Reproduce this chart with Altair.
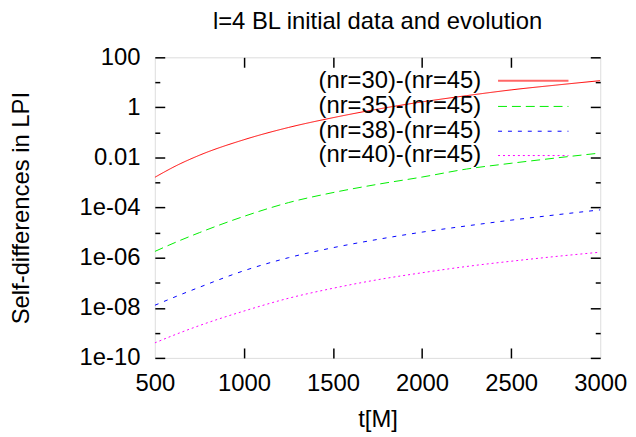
import math
import altair as alt
import pandas as pd

# ---- data ----
t = [500, 625, 750, 1000, 1250, 1500, 1750, 2000, 2250, 2500, 2750, 3000]
nr30 = [1.62e-3, 4.9e-3, 1.23e-2, 5.13e-2, 0.158, 0.389, 0.851, 1.66, 2.95, 5.01, 7.76, 11.7]
nr35 = [1.78e-6, 4.37e-6, 1.0e-5, 4.47e-5, 1.58e-4, 3.98e-4, 8.51e-4, 1.66e-3, 3.47e-3, 5.89e-3, 9.55e-3, 1.51e-2]
nr38 = [1.26e-8, 2.95e-8, 6.6e-8, 3.02e-7, 1.0e-6, 2.51e-6, 5.37e-6, 1.05e-5, 1.86e-5, 3.16e-5, 5.13e-5, 8.13e-5]
nr40 = [3.98e-10, 9.1e-10, 1.95e-9, 7.41e-9, 2.40e-8, 6.03e-8, 1.32e-7, 2.51e-7, 4.47e-7, 7.24e-7, 1.12e-6, 1.66e-6]

series_labels = ["(nr=30)-(nr=45)", "(nr=35)-(nr=45)", "(nr=38)-(nr=45)", "(nr=40)-(nr=45)"]
series_values = [nr30, nr35, nr38, nr40]
series_colors = ["#ff0000", "#00ee00", "#0000ff", "#ff00ff"]
series_dash = [[1, 0], [9, 5], [4, 6], [2, 3]]

x_ticks = [500, 1000, 1500, 2000, 2500, 3000]
x_inner_ticks = [1000, 1500, 2000, 2500]
y_ticks = [1e-10, 1e-8, 1e-6, 1e-4, 1e-2, 1, 100]
y_tick_labels = ["1e-10", "1e-08", "1e-06", "1e-04", "0.01", "1", "100"]
y_all_decades = [10.0 ** e for e in range(-10, 3)]

title_text = "l=4 BL initial data and evolution"
x_title = "t[M]"
y_title = "Self-differences in LPI"

FONT = "Liberation Sans"
FS = 24
W, H = 449, 303

# ---- build ----
rows = []
for lab, vals in zip(series_labels, series_values):
    for tt, v in zip(t, vals):
        rows.append({"t": tt, "v": v, "series": lab})
df = pd.DataFrame(rows)

xs = alt.Scale(domain=[500, 3000], nice=False, zero=False)
ys = alt.Scale(type="log", domain=[1e-10, 100], nice=False)

label_expr = " : ".join(
    f"abs(log(datum.value)/LN10 - ({round(math.log10(v))})) < 0.1 ? '{l}'"
    for v, l in zip(y_ticks, y_tick_labels)
) + " : ''"

main_x_axis = alt.Axis(
    values=x_ticks, format="d", ticks=False, tickSize=0, domain=False, grid=False,
    labelFont=FONT, labelFontSize=FS, labelColor="black", labelPadding=33,
    labelBaseline="alphabetic", labelFlush=False, labelOverlap=False,
    title=x_title, titleFont=FONT, titleFontSize=FS, titleFontWeight="normal",
    titleColor="black", titleX=W / 2, titleY=69, titleBaseline="alphabetic",
    titleAnchor="middle", titleAlign="center",
)
main_y_axis = alt.Axis(
    values=y_ticks, ticks=False, tickSize=0, domain=False, grid=False,
    labelExpr=label_expr, labelFont=FONT, labelFontSize=FS, labelColor="black",
    labelPadding=15, labelOverlap=False, labelFlush=False,
    title=y_title, titleFont=FONT, titleFontSize=FS, titleFontWeight="normal",
    titleColor="black", titleX=-122, titleY=H / 2, titleAngle=-90,
    titleBaseline="bottom", titleAlign="center",
)

layers = []
for i, lab in enumerate(series_labels):
    d = df[df.series == lab]
    mk = alt.Chart(d).mark_line(
        color=series_colors[i], strokeWidth=1, strokeDash=series_dash[i],
        interpolate="monotone", clip=True,
    )
    if i == 0:
        enc = mk.encode(
            x=alt.X("t:Q", scale=xs, axis=main_x_axis),
            y=alt.Y("v:Q", scale=ys, axis=main_y_axis),
        )
    else:
        enc = mk.encode(
            x=alt.X("t:Q", scale=xs, axis=None),
            y=alt.Y("v:Q", scale=ys, axis=None),
        )
    layers.append(enc)

tick_size_y = {
    "condition": {"test": "abs(round(log(datum.value)/LN10)) % 2 == 1", "value": 5},
    "value": 10,
}


def tick_layer(xorient, yorient):
    return alt.Chart(df).mark_line(opacity=0).encode(
        x=alt.X("t:Q", scale=xs, axis=alt.Axis(
            orient=xorient, offset=-H, values=x_inner_ticks, labels=False,
            domain=False, grid=False, ticks=True, tickSize=10, tickWidth=1.5,
            tickColor="black", title=None)),
        y=alt.Y("v:Q", scale=ys, axis=alt.Axis(
            orient=yorient, offset=-W, values=y_all_decades, labels=False,
            domain=False, grid=False, ticks=True, tickSize=tick_size_y,
            tickWidth=1.5, tickColor="black", title=None)),
    )


layers.append(tick_layer("top", "right"))
layers.append(tick_layer("bottom", "left"))

# chart title as text above the plot
layers.append(
    alt.Chart(pd.DataFrame({"title": [title_text]})).mark_text(
        align="center", baseline="alphabetic", font=FONT, fontSize=FS, color="black"
    ).encode(x=alt.value(W / 2), y=alt.value(-29), text="title:N")
)

# legend (gnuplot style: text then sample)
legend_y = [23.5, 49.5, 74.5, 99]
for i, lab in enumerate(series_labels):
    ld = pd.DataFrame({"label": [lab]})
    layers.append(
        alt.Chart(ld).mark_text(
            align="right", baseline="middle", font=FONT, fontSize=FS, color="black"
        ).encode(x=alt.value(329), y=alt.value(legend_y[i]), text="label:N")
    )
    layers.append(
        alt.Chart(ld).mark_rule(
            color=series_colors[i], strokeWidth=2 if i == 0 else 1,
            opacity=0.6 if i == 0 else 1, strokeDash=series_dash[i],
        ).encode(x=alt.value(346), x2=alt.value(417), y=alt.value(legend_y[i]))
    )

chart = alt.layer(*layers).resolve_axis(x="independent", y="independent").properties(
    width=W, height=H,
    autosize=alt.AutoSizeParams(type="none"),
    padding={"left": 148, "top": 48, "right": 28, "bottom": 77},
).configure_view(stroke="black", strokeWidth=1.5).configure(background="white")

chart.save("out.html", embed_options={"renderer": "svg", "actions": False})
